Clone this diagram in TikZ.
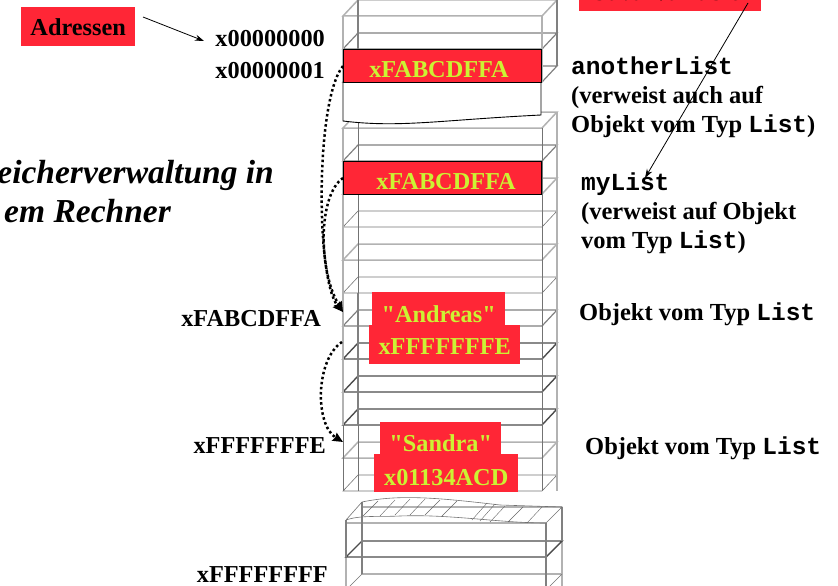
\documentclass[tikz,border=0pt]{standalone}
\usepackage{fontspec}
\setmainfont{Liberation Serif}
\setmonofont{Liberation Mono}
\newfontfamily\zitatfont{Liberation Serif}
\usetikzlibrary{arrows.meta}
\definecolor{speicherrot}{rgb}{1,0.15,0.21}
\definecolor{speichergelb}{rgb}{0.8,0.95,0.2}
\newcommand{\tief}[2]{\raisebox{-#1pt}[0pt][0pt]{#2}}
\tikzset{
	rotbox/.style={fill=speicherrot, inner sep=0pt, minimum height=33pt, font=\fontsize{24.3}{24}\selectfont\bfseries, text=speichergelb},
	adresse/.style={anchor=east, inner sep=0pt, font=\fontsize{24.3}{24}\selectfont\bfseries},
	erklaerung/.style={anchor=north west, align=left, inner sep=0pt, font=\fontsize{24.5}{28.8}\selectfont\bfseries},
	titeltext/.style={inner sep=0pt, font=\fontsize{33.5}{36}\selectfont\bfseries\itshape},
	zeiger/.style={line width=2.5pt, dash pattern=on 2.5pt off 2.6pt, -{Stealth[length=10pt,width=9pt,inset=1pt]}},
	pfeil/.style={-{Stealth[length=9pt,width=6pt]}, line width=0.8pt},
	hell/.style={draw=black!30, line width=1.5pt},
	mittel/.style={draw=black!50, line width=1.2pt},
	dunkel/.style={draw=black!70, line width=1.4pt},
	duenn/.style={draw=black!55, line width=0.6pt}
}
\begin{document}
\begin{tikzpicture}[x=1pt,y=-1pt]
	\useasboundingbox (0,0) rectangle (838,586);
	% Speicherzellen oben
	\foreach \y/\s in {16/hell,49/mittel,82/mittel}
		\draw[\s] (343,\y) -- (542,\y) -- (557,\y-16) -- (358,\y-16) -- cycle;
	\draw[hell] (343,16) -- (343,82) (542,16) -- (542,82);
	\draw[mittel] (358,0) -- (358,66) (557,0) -- (557,66);
	% Speicherzellen Mitte
	\foreach \y/\s in {128/hell,161/mittel,194/hell,227/duenn,260/hell,293/duenn,326/mittel,359/dunkel,392/dunkel,425/dunkel,458/hell,491/duenn}
		\draw[\s] (343,\y) -- (542,\y) -- (557,\y-16) -- (358,\y-16) -- cycle;
	\draw[hell] (343,128) -- (343,425) (557,112) -- (557,491);
	\draw[duenn] (343,425) -- (343,491) (358,112) -- (358,293) (358,425) -- (358,491) (542,128) -- (542,491);
	\draw[mittel] (358,293) -- (358,425);
	% Speicherzellen unten
	\draw[hell] (362,507) -- (562,507) (346,523) -- (546,523) (346,557) -- (346,586) (562,541) -- (562,586) (362,574) -- (562,574);
	\foreach \y in {557}
		\draw[dunkel] (346,\y) -- (546,\y) -- (562,\y-16) -- (362,\y-16) -- cycle;
	\draw[mittel] (346,520) -- (346,557) (362,502) -- (362,574) (546,523) -- (546,586) (562,507) -- (562,541);
	\draw[duenn] (346,574+16) -- (362,574) (546,590) -- (562,574);
	\draw[duenn] (346,520) -- (362,502) .. controls (400,494) and (440,498) .. (500,505) -- (562,507) -- (546,523) .. controls (500,523) and (450,514) .. (400,516) .. controls (380,517) and (360,515) .. (346,520);
	\foreach \x/\u/\l in {378/501/516,395/500/516,410/499/515,425/499/515,440/500/515,457/501/516,487/503/520,495/504/521,505/506/522,523/507/522,542/507/523}
		\draw[black!60, line width=0.4pt] (\x-15,\l) -- (\x,\u);
	% weisser Kasten und rote Zellen
	\path[draw=black, fill=white, line width=0.9pt] (343,82) -- (343,121) .. controls (400,128) and (440,120) .. (541,115) -- (541,82) -- cycle;
	\node[rotbox, draw=black, line width=1pt, minimum width=198pt, anchor=north west] (zelleA) at (343,49) {};
	\node[text=speichergelb, inner sep=0pt, font=\fontsize{24.3}{24}\selectfont\bfseries] (wertA) at (439,70) {xFABCDFFA};
	\node[rotbox, draw=black, line width=1pt, minimum width=198pt, anchor=north west] (zelleB) at (343,161) {};
	\node[text=speichergelb, inner sep=0pt, font=\fontsize{24.3}{24}\selectfont\bfseries] (wertB) at (446,182) {xFABCDFFA};
	\node[rotbox, minimum width=133pt, anchor=north west] (andreas) at (372,292) {\tief{13.5}{\zitatfont "Andreas"}};
	\node[rotbox, minimum width=151pt, minimum height=39pt, anchor=north west] (andreasZ) at (369,325) {\tief{9.5}{xFFFFFFFE}};
	\node[rotbox, minimum width=121pt, anchor=north west] (sandra) at (380,422) {\tief{12.5}{\zitatfont "Sandra"}};
	\node[rotbox, minimum width=144pt, minimum height=38pt, anchor=north west] (sandraZ) at (374,454) {\tief{12}{x01134ACD}};
	\node[fill=speicherrot, inner sep=0pt, minimum width=114pt, minimum height=39pt, anchor=north west, font=\fontsize{24.3}{24}\selectfont\bfseries] (adressen) at (21,7) {\tief{9}{Adressen}};
	\fill[speicherrot] (579,0) rectangle (761,11);
	\node[anchor=base, inner sep=0pt, font=\fontsize{24.3}{24}\selectfont\bfseries] (variable) at (668,0.4) {Java-Variable};
	\coordinate (javaVar) at (748,3);
	% Beschriftung
	\node[adresse] (nullAdr) at (325,39) {x00000000};
	\node[adresse] (einsAdr) at (325,71) {x00000001};
	\node[adresse] (listAdr) at (321,319) {xFABCDFFA};
	\node[adresse] (nextAdr) at (326,446) {xFFFFFFFE};
	\node[adresse] (endAdr) at (328,575) {xFFFFFFFF};
	\node[erklaerung] (another) at (571,57) {\texttt{anotherList}\\(verweist auch auf\\Objekt vom Typ \texttt{List})};
	\node[erklaerung] (mylist) at (581,173) {\texttt{myList}\\(verweist auf Objekt\\vom Typ \texttt{List})};
	\node[erklaerung] (objA) at (579,303) {Objekt vom Typ \texttt{List}};
	\node[erklaerung] (objB) at (585,437) {Objekt vom Typ \texttt{List}};
	\node[titeltext, anchor=east] (titelA) at (274,175) {eicherverwaltung in};
	\node[titeltext, anchor=east] (titelB) at (171,211) {em Rechner};
	% Pfeile
	\coordinate (listPfeil) at (343,312);
	\coordinate (sandraPfeil) at (343,442);
	\coordinate (nextStart) at (342,342);
	\coordinate (adrStart) at (143,17);
	\coordinate (adrEnde) at (204,41);
	\coordinate (myList) at (645,178);
	\draw[pfeil] (adrStart) -- (adrEnde);
	\draw[pfeil] (javaVar) -- (myList);
	\draw[zeiger] (zelleA.west) .. controls (315,100) and (316,280) .. (listPfeil);
	\draw[zeiger] (zelleB.west) .. controls (318,195) and (318,270) .. (listPfeil);
	\draw[zeiger] (nextStart) .. controls (315,360) and (315,425) .. (sandraPfeil);
\end{tikzpicture}
\end{document}
